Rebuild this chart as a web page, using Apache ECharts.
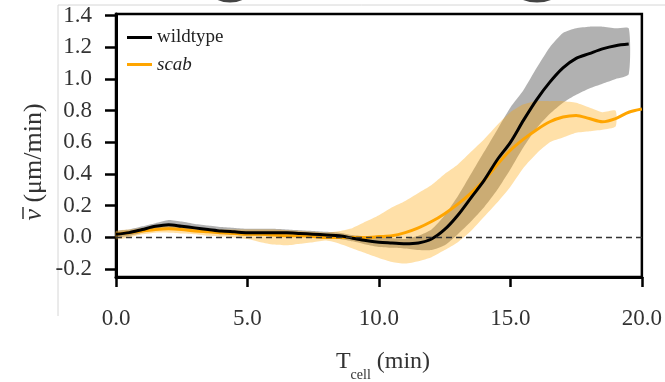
<!DOCTYPE html>
<html>
<head>
<meta charset="utf-8">
<script src="https://cdn.jsdelivr.net/npm/echarts@6/dist/echarts.min.js"></script>
<style>
  html, body { margin: 0; padding: 0; background: #fff; }
  #chart { width: 665px; height: 382px; }
</style>
</head>
<body>
<div id="chart"></div>
<script>
// Mean cell speed over time, with shaded spread, for wildtype and scab cells
const timeWT = [0,0.5,1,1.5,2,2.5,3,3.5,4,4.5,5,5.5,6,6.5,7,7.5,8,8.5,9,9.5,10,10.5,11,11.5,12,12.5,13,13.5,14,14.5,15,15.5,16,16.5,17,17.5,18,18.5,19,19.5];
const wtMean  = [0.02,0.03,0.05,0.07,0.08,0.07,0.06,0.05,0.04,0.035,0.03,0.03,0.03,0.03,0.025,0.02,0.015,0.01,-0.005,-0.02,-0.03,-0.035,-0.04,-0.035,-0.01,0.05,0.14,0.25,0.36,0.49,0.6,0.74,0.87,0.98,1.07,1.13,1.16,1.19,1.21,1.22];
const wtUpper = [0.04,0.05,0.07,0.09,0.11,0.1,0.085,0.075,0.065,0.06,0.055,0.055,0.055,0.05,0.045,0.04,0.035,0.03,0.015,0.005,0.0,-0.005,-0.01,0.01,0.05,0.14,0.26,0.4,0.54,0.68,0.82,0.93,1.07,1.2,1.29,1.32,1.33,1.33,1.32,1.32];
const wtLower = [0.0,0.01,0.03,0.05,0.06,0.05,0.04,0.03,0.02,0.015,0.01,0.01,0.01,0.01,0.005,0.0,-0.005,-0.01,-0.025,-0.045,-0.06,-0.065,-0.07,-0.08,-0.08,-0.05,0.02,0.1,0.19,0.3,0.43,0.57,0.69,0.78,0.85,0.9,0.94,0.97,1.0,1.03];

const timeScab = [0,0.5,1,1.5,2,2.5,3,3.5,4,4.5,5,5.5,6,6.5,7,7.5,8,8.5,9,9.5,10,10.5,11,11.5,12,12.5,13,13.5,14,14.5,15,15.5,16,16.5,17,17.5,18,18.5,19,19.5,20];
const scabMean = [0.02,0.03,0.04,0.05,0.055,0.05,0.04,0.035,0.03,0.025,0.02,0.02,0.015,0.01,0.01,0.005,0.0,0.0,0.0,0.0,0.005,0.01,0.03,0.06,0.1,0.15,0.21,0.28,0.36,0.46,0.55,0.62,0.68,0.73,0.76,0.77,0.75,0.73,0.75,0.79,0.81];

const timeScabBand = [0,0.5,1,1.5,2,2.5,3,3.5,4,4.5,5,5.5,6,6.5,7,7.5,8,8.5,9,9.5,10,10.5,11,11.5,12,12.5,13,13.5,14,14.5,15,15.5,16,16.5,17,17.5,18,18.5,19];
const scabUpper = [0.04,0.05,0.06,0.07,0.08,0.07,0.06,0.055,0.05,0.05,0.05,0.05,0.05,0.045,0.04,0.035,0.03,0.04,0.06,0.1,0.14,0.19,0.23,0.28,0.33,0.4,0.46,0.54,0.62,0.71,0.79,0.84,0.86,0.86,0.86,0.85,0.82,0.79,0.8];
const scabLower = [-0.01,0.0,0.02,0.03,0.03,0.025,0.02,0.01,0.005,0.0,-0.01,-0.03,-0.045,-0.05,-0.04,-0.03,-0.02,-0.04,-0.07,-0.1,-0.13,-0.155,-0.165,-0.15,-0.125,-0.08,-0.03,0.04,0.13,0.22,0.32,0.44,0.53,0.6,0.63,0.66,0.67,0.68,0.7];

const xTicks = [0, 5, 10, 15, 20];
const yTicks = [-0.2, 0.0, 0.2, 0.4, 0.6, 0.8, 1.0, 1.2, 1.4];

const serif = '"Liberation Serif", "DejaVu Serif", serif';
const zip = (xs, ys) => xs.map((x, i) => [x, ys[i]]);

// Shaded spread drawn as a closed polygon through the axis coordinates
function band(name, times, upper, lower, fill, z) {
  return {
    type: 'custom',
    name: name,
    silent: true,
    z: z,
    data: [0],
    renderItem: function (params, api) {
      const pts = [];
      for (let i = 0; i < times.length; i++) pts.push(api.coord([times[i], upper[i]]));
      for (let i = times.length - 1; i >= 0; i--) pts.push(api.coord([times[i], lower[i]]));
      return { type: 'polygon', shape: { points: pts, smooth: 0.2 }, style: { fill: fill } };
    }
  };
}

const chart = echarts.init(document.getElementById('chart'), null, { renderer: 'canvas' });
chart.setOption({
  backgroundColor: '#fff',
  animation: false,
  grid: { left: 116, right: 12, top: 14, bottom: 105, show: true, borderColor: '#000', borderWidth: 2.5 },
  xAxis: {
    type: 'value', min: 0, max: 20, interval: 5,
    axisLine: { onZero: false, lineStyle: { color: '#000', width: 3 } },
    axisTick: { inside: false, length: 10, lineStyle: { color: '#000', width: 2.5 } },
    axisLabel: { margin: 30, fontFamily: serif, fontSize: 23, color: '#333',
                 customValues: xTicks, formatter: v => v.toFixed(1) },
    splitLine: { show: false }
  },
  yAxis: {
    type: 'value', min: -0.25, max: 1.41,
    axisLine: { onZero: false, lineStyle: { color: '#000', width: 3 } },
    axisTick: { inside: false, length: 11, customValues: yTicks, lineStyle: { color: '#000', width: 2.5 } },
    axisLabel: { margin: 24, fontFamily: serif, fontSize: 23, color: '#333',
                 customValues: yTicks, formatter: v => v.toFixed(1) },
    splitLine: { show: false }
  },
  legend: {
    orient: 'vertical', left: 122, top: 23, itemGap: 8,
    itemWidth: 25, itemHeight: 3, icon: 'rect',
    textStyle: { fontFamily: serif, fontSize: 19, color: '#222' },
    data: [
      { name: 'wildtype' },
      { name: 'scab', textStyle: { fontStyle: 'italic' } }
    ]
  },
  graphic: [
    { type: 'line', shape: { x1: 58, y1: 5, x2: 665, y2: 5 }, style: { stroke: '#d6d6d6', lineWidth: 1 } },
    { type: 'line', shape: { x1: 58, y1: 5, x2: 58, y2: 316 }, style: { stroke: '#d6d6d6', lineWidth: 1 } },
    { type: 'ellipse', shape: { cx: 230, cy: -30, rx: 30, ry: 31 }, style: { fill: 'none', stroke: '#444', lineWidth: 3 } },
    { type: 'ellipse', shape: { cx: 537, cy: -30, rx: 34, ry: 31 }, style: { fill: 'none', stroke: '#444', lineWidth: 3 } },
    {
      type: 'text', x: 34, y: 162, rotation: Math.PI / 2,
      style: {
        text: '{v|v} (μm/min)',
        fontFamily: serif, fontSize: 26, fill: '#333',
        align: 'center', verticalAlign: 'middle',
        rich: { v: { fontFamily: serif, fontSize: 26, fontStyle: 'italic', fill: '#333' } }
      }
    },
    // bar over the v
    { type: 'line', shape: { x1: 23, y1: 207, x2: 23, y2: 219 }, style: { stroke: '#333', lineWidth: 1.5 } },
    {
      type: 'text', x: 383, y: 362,
      style: {
        text: '{a|T}{s|cell}{a| (min)}',
        align: 'center', verticalAlign: 'middle',
        rich: {
          a: { fontFamily: serif, fontSize: 24, lineHeight: 40, fill: '#333' },
          s: { fontFamily: serif, fontSize: 14, lineHeight: 14, verticalAlign: 'bottom', fill: '#333' }
        }
      }
    }
  ],
  series: [
    band('wildtype spread', timeWT, wtUpper, wtLower, 'rgba(100,100,100,0.5)', 1),
    band('scab spread', timeScabBand, scabUpper, scabLower, 'rgba(255,165,0,0.34)', 2),
    {
      name: 'scab', type: 'line', z: 3,
      data: zip(timeScab, scabMean),
      showSymbol: false, smooth: 0.3,
      itemStyle: { color: '#FFA500' },
      lineStyle: { color: '#FFA500', width: 3 },
      markLine: {
        silent: true, symbol: 'none', label: { show: false },
        lineStyle: { type: [6, 4], color: '#333', width: 1.3 },
        data: [{ yAxis: 0 }]
      }
    },
    {
      name: 'wildtype', type: 'line', z: 4,
      data: zip(timeWT, wtMean),
      showSymbol: false, smooth: 0.3,
      itemStyle: { color: '#000' },
      lineStyle: { color: '#000', width: 3 }
    }
  ]
});
</script>
</body>
</html>
